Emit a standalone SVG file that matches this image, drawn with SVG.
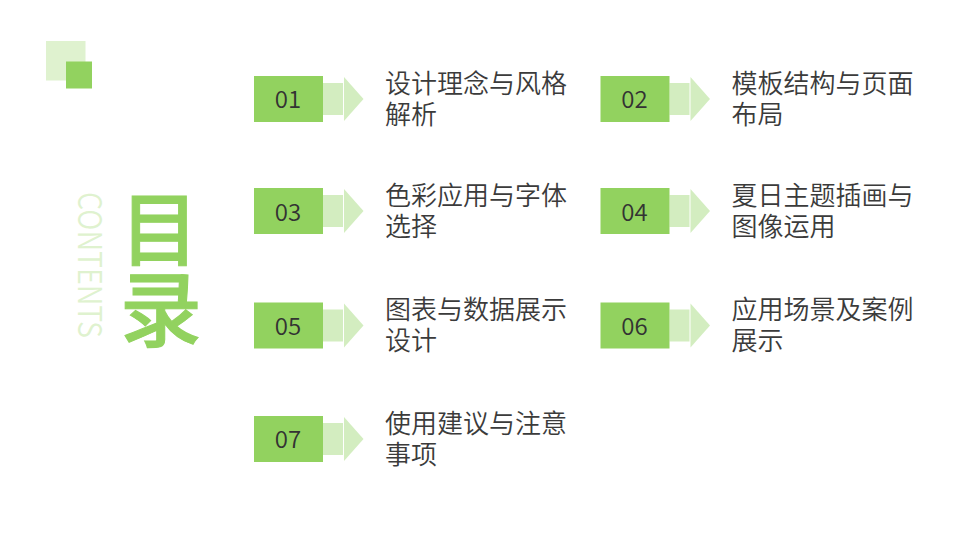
<svg xmlns="http://www.w3.org/2000/svg" width="960" height="540" viewBox="0 0 960 540">
<style>
text{font-family:"Noto Sans CJK SC","Noto Sans",sans-serif}
.l{font-size:26px;fill:#3b3b3b;font-weight:350}
.n{font-size:24px;fill:#333;text-anchor:middle;font-weight:350}
.b{fill:#92d25f}
.a{fill:#d3edc0}
.t{font-size:78px;font-weight:500;text-anchor:middle;fill:#92d25f;stroke:#92d25f;stroke-width:1px}
</style>
<defs>
<g id="tag"><rect class="a" x="69" y="7" width="20" height="32"/><path class="a" d="M90 1L109.500 23L90 45Z"/><rect class="b" x="0" y="0" width="69" height="46"/></g>
</defs>
<rect width="960" height="540" fill="#fff"/>
<g id="logo"><rect x="46" y="41" width="39.500" height="39.500" fill="#dff2cf"/><rect class="b" x="66" y="61.500" width="26" height="27"/></g>
<g id="title"><text class="t" transform="translate(159.500,259) scale(1,1.02)">目</text><text class="t" transform="translate(161,339.500) scale(1.05,1.05)">录</text>
<text transform="translate(77.500,192) rotate(90)" font-size="32" font-weight="350" textLength="146" lengthAdjust="spacingAndGlyphs" fill="#dff2cf">CONTENTS</text></g>
<g id="item1"><use href="#tag" x="254" y="76"/><text class="n" x="288" y="107.500">01</text><text class="l" x="385" y="93">设计理念与风格</text><text class="l" x="385" y="124">解析</text></g>
<g id="item2"><use href="#tag" x="600.500" y="76"/><text class="n" x="634.500" y="107.500">02</text><text class="l" x="731.500" y="93">模板结构与页面</text><text class="l" x="731.500" y="124">布局</text></g>
<g id="item3"><use href="#tag" x="254" y="188"/><text class="n" x="288" y="220.500">03</text><text class="l" x="385" y="205">色彩应用与字体</text><text class="l" x="385" y="236">选择</text></g>
<g id="item4"><use href="#tag" x="600.500" y="188"/><text class="n" x="634.500" y="220.500">04</text><text class="l" x="731.500" y="205">夏日主题插画与</text><text class="l" x="731.500" y="236">图像运用</text></g>
<g id="item5"><use href="#tag" x="254" y="302.500"/><text class="n" x="288" y="334.500">05</text><text class="l" x="385" y="319">图表与数据展示</text><text class="l" x="385" y="350">设计</text></g>
<g id="item6"><use href="#tag" x="600.500" y="302.500"/><text class="n" x="634.500" y="334.500">06</text><text class="l" x="731.500" y="319">应用场景及案例</text><text class="l" x="731.500" y="350">展示</text></g>
<g id="item7"><use href="#tag" x="254" y="416"/><text class="n" x="288" y="447.500">07</text><text class="l" x="385" y="433">使用建议与注意</text><text class="l" x="385" y="464">事项</text></g>
<g id="connectors"/>
</svg>
